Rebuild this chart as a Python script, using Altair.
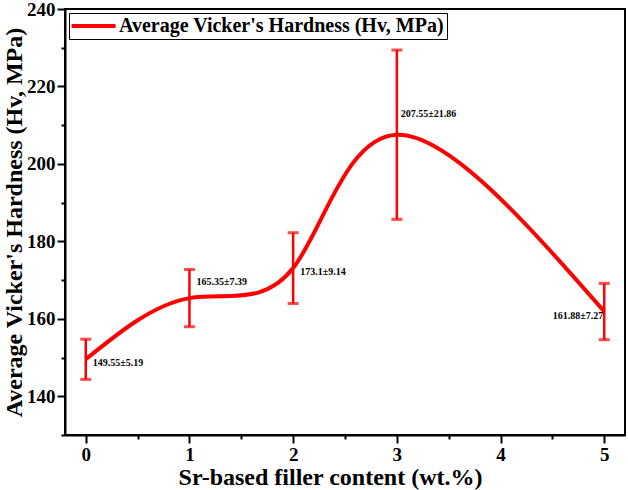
import altair as alt
import pandas as pd

# Sr-based filler content (wt.%) and measured Vicker's hardness (Hv, MPa)
content = [0, 1, 2, 3, 5]
hardness = [149.55, 165.35, 173.1, 207.55, 161.88]
std_dev = [5.19, 7.39, 9.14, 21.86, 7.27]
series_name = "Average Vicker's Hardness (Hv, MPa)"

x_major = [0, 1, 2, 3, 4, 5]
x_minor = [0.5, 1.5, 2.5, 3.5, 4.5]
y_major = [140, 160, 180, 200, 220, 240]
y_minor = [130, 150, 170, 190, 210, 230]

df = pd.DataFrame({"content": content, "hardness": hardness, "sd": std_dev})
df["lo"] = df["hardness"] - df["sd"]
df["hi"] = df["hardness"] + df["sd"]
df["label"] = [f"{h}\u00b1{s}" for h, s in zip(hardness, std_dev)]
df["series"] = series_name

FONT = "Liberation Serif"
RED = "#ff0000"

x_scale = alt.Scale(domain=[-0.2, 5.2], nice=False, zero=False)
y_scale = alt.Scale(domain=[130, 240], nice=False, zero=False)

base = alt.Chart(df)

curve = base.mark_line(interpolate="natural", strokeWidth=4).encode(
    x=alt.X(
        "content:Q", scale=x_scale,
        axis=alt.Axis(title="Sr-based filler content (wt.%)", values=x_major, format="d",
                      tickSize=8, labelPadding=2, titlePadding=1, titleX=265,
                      orient="bottom"),
    ),
    y=alt.Y(
        "hardness:Q", scale=y_scale,
        axis=alt.Axis(title=series_name, values=y_major, format="d",
                      tickSize=8, labelPadding=2, titlePadding=0, orient="left"),
    ),
    color=alt.Color(
        "series:N",
        scale=alt.Scale(range=[RED]),
        legend=alt.Legend(
            title=None,
            orient="top-left",
            offset=4,
            # long flat line symbol, kept short in height so the box stays slim
            symbolType="M-1.9,0H6.1",
            symbolStrokeWidth=4,
            symbolSize=121,
            symbolFillColor="transparent",
            symbolStrokeColor=RED,
            labelFont=FONT,
            labelFontSize=20,
            labelFontWeight="bold",
            labelColor="black",
            labelLimit=0,
            strokeColor="black",
            fillColor="white",
            padding=3,
            labelOffset=27,
        ),
    ),
)

err = base.mark_rule(color=RED, strokeWidth=2.5).encode(
    x="content:Q", y="lo:Q", y2="hi:Q"
)
cap_lo = base.mark_tick(color=RED, orient="horizontal", size=11, thickness=3).encode(
    x="content:Q", y="lo:Q"
)
cap_hi = base.mark_tick(color=RED, orient="horizontal", size=11, thickness=3).encode(
    x="content:Q", y="hi:Q"
)

# per-label placement: (dx, dy, align)
label_place = [(7, 4, "left"), (7, -16, "left"), (7, 4, "left"), (4, -21, "left"), (-1, 4, "right")]
labels = []
for i, (dx, dy, al) in enumerate(label_place):
    labels.append(
        alt.Chart(df.iloc[[i]]).mark_text(
            dx=dx, dy=dy, align=al, baseline="middle",
            font=FONT, fontSize=10, fontWeight="bold", color="black",
        ).encode(x="content:Q", y="hardness:Q", text="label:N")
    )

main = alt.layer(curve, err, cap_lo, cap_hi, *labels)

# invisible layer that only carries the short minor-tick axes
minor = base.mark_point(opacity=0).encode(
    x=alt.X("content:Q", scale=x_scale,
            axis=alt.Axis(values=x_minor, tickSize=4, labels=False, domain=False,
                          title=None, orient="bottom")),
    y=alt.Y("hardness:Q", scale=y_scale,
            axis=alt.Axis(values=y_minor, tickSize=4, labels=False, domain=False,
                          title=None, orient="left")),
)

chart = alt.layer(main, minor).resolve_axis(x="independent", y="independent").properties(
    width=560,
    height=426,
    autosize=alt.AutoSizeParams(type="none"),
    padding={"left": 65, "top": 9, "right": 3, "bottom": 55},
).configure_view(
    stroke="black", strokeWidth=2
).configure_axis(
    domainColor="black",
    domainWidth=2,
    tickColor="black",
    tickWidth=2,
    grid=False,
    labelFont=FONT,
    labelFontSize=19,
    labelFontWeight="bold",
    labelColor="black",
    titleFont=FONT,
    titleFontSize=24,
    titleFontWeight="bold",
    titleColor="black",
)

chart.save("out.html", embed_options={"renderer": "svg", "actions": False})
